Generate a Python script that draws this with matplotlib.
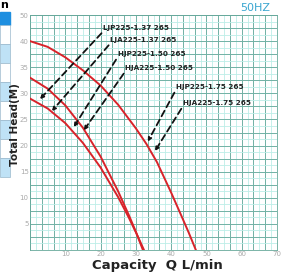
import numpy as np
import matplotlib
matplotlib.use("Agg")
import matplotlib.pyplot as plt
from matplotlib.patches import Rectangle

# pump curves: capacity (L/min) vs head (m)
q_175 = [0, 5, 10, 15, 20, 25, 30, 33, 36, 40, 43, 45, 47]
h_175 = [40, 38.9, 36.9, 34.4, 31.5, 27.8, 23.3, 20.3, 16.8, 11, 6.4, 3.3, 0]
q_150 = [0, 5, 10, 15, 20, 25, 28, 30, 32]
h_150 = [33, 30.9, 27.7, 23.4, 17.9, 11.2, 6.7, 3.5, 0]
q_137 = [0, 5, 10, 15, 20, 25, 28, 30, 32.3]
h_137 = [29, 27.1, 24.3, 20.5, 15.8, 10.1, 6.2, 3.4, 0]

# model labels, where the text sits and where its leader hits the curve
labels = ["LJP225-1.37 265", "LJA225-1.37 265", "HJP225-1.50 265",
          "HJA225-1.50 265", "HJP225-1.75 265", "HJA225-1.75 265"]
label_q = [20.8, 22.8, 24.8, 27.0, 41.3, 43.3]
label_h = [41.9, 39.6, 36.9, 34.2, 30.6, 27.5]
tip_q = [2.3, 5.7, 12.0, 14.8, 33.0, 35.0]
tip_h = [28.5, 26.2, 23.1, 22.5, 20.3, 18.5]

x_ticks = [10, 20, 30, 40, 50, 60, 70]
y_ticks = [5, 10, 15, 20, 25, 30, 35, 40, 45]
y_ticklabels = ["5", "10", "15", "20", "25", "30", "35", "40", "50"]

fig = plt.figure(figsize=(2.89, 2.75), dpi=100)
ax = fig.add_axes([30 / 289, 25 / 275, 247 / 289, 235 / 275])

# chart-paper grid
major = "#66a89a"
minor = "#bdeee8"
for v in np.arange(0, 70.01, 5 / 3):
    ax.axvline(v, color=minor, lw=0.6, zorder=0)
for v in np.arange(0, 70.01, 10 / 3):
    ax.axvline(v, color=major, lw=0.6, zorder=0)
for v in np.arange(0, 45.01, 1.25):
    ax.axhline(v, color=minor, lw=0.6, zorder=0)
for v in np.arange(0, 45.01, 2.5):
    ax.axhline(v, color=major, lw=0.6, zorder=0)

red = "#d8232a"
ax.plot(q_175, h_175, color=red, lw=1.4, zorder=3)
ax.plot(q_150, h_150, color=red, lw=1.4, zorder=3)
ax.plot(q_137, h_137, color=red, lw=1.4, zorder=3)

for lab, lq, lh, tq, th in zip(labels, label_q, label_h, tip_q, tip_h):
    ax.annotate("", xy=(tq, th), xytext=(lq, lh),
                arrowprops=dict(arrowstyle="-|>", color="#111111", lw=1.3,
                                linestyle=(0, (3.5, 2.2)), mutation_scale=5),
                zorder=4)
    ax.text(lq, lh, lab, fontsize=5.2, fontweight="bold", color="#222222",
            ha="left", va="bottom", zorder=5)

ax.set_xlim(0, 70)
ax.set_ylim(0, 45)
ax.set_xticks(x_ticks)
ax.set_yticks(y_ticks)
ax.set_yticklabels(y_ticklabels)
ax.tick_params(length=0, labelsize=5, labelcolor="#aaaaaa", pad=1)
for s in ax.spines.values():
    s.set_color(major)
    s.set_linewidth(0.6)

fig.text(157 / 289, 1 - 265 / 275, "Capacity  Q L/min", fontsize=9.5,
         fontweight="bold", ha="center", va="center", color="#222222",
         family=["Liberation Sans Narrow", "DejaVu Sans"])
fig.text(15 / 289, 1 - 125 / 275, "Total Head(M)", fontsize=7.5,
         fontweight="bold", rotation=90, ha="center", va="center",
         color="#222222")
fig.text(255 / 289, 1 - 8 / 275, "50HZ", fontsize=8, color="#3aa6d0",
         ha="center", va="center")

# cut-off table on the left edge
fig.patches.append(Rectangle((0, 1 - 25 / 275), 10 / 289, 13 / 275,
                             transform=fig.transFigure, color="#1e8fe0"))
row_top = 25
for i in range(8):
    col = "white" if i % 2 == 0 else "#bfe2f6"
    fig.patches.append(Rectangle((0, 1 - (row_top + 19) / 275), 10 / 289,
                                 19 / 275, transform=fig.transFigure,
                                 facecolor=col, edgecolor="#9ab8cc", lw=0.5))
    row_top += 19
fig.text(4 / 289, 1 - 5 / 275, "n", fontsize=8, fontweight="bold",
         ha="center", va="center")

fig.savefig("out.png", dpi=100)
